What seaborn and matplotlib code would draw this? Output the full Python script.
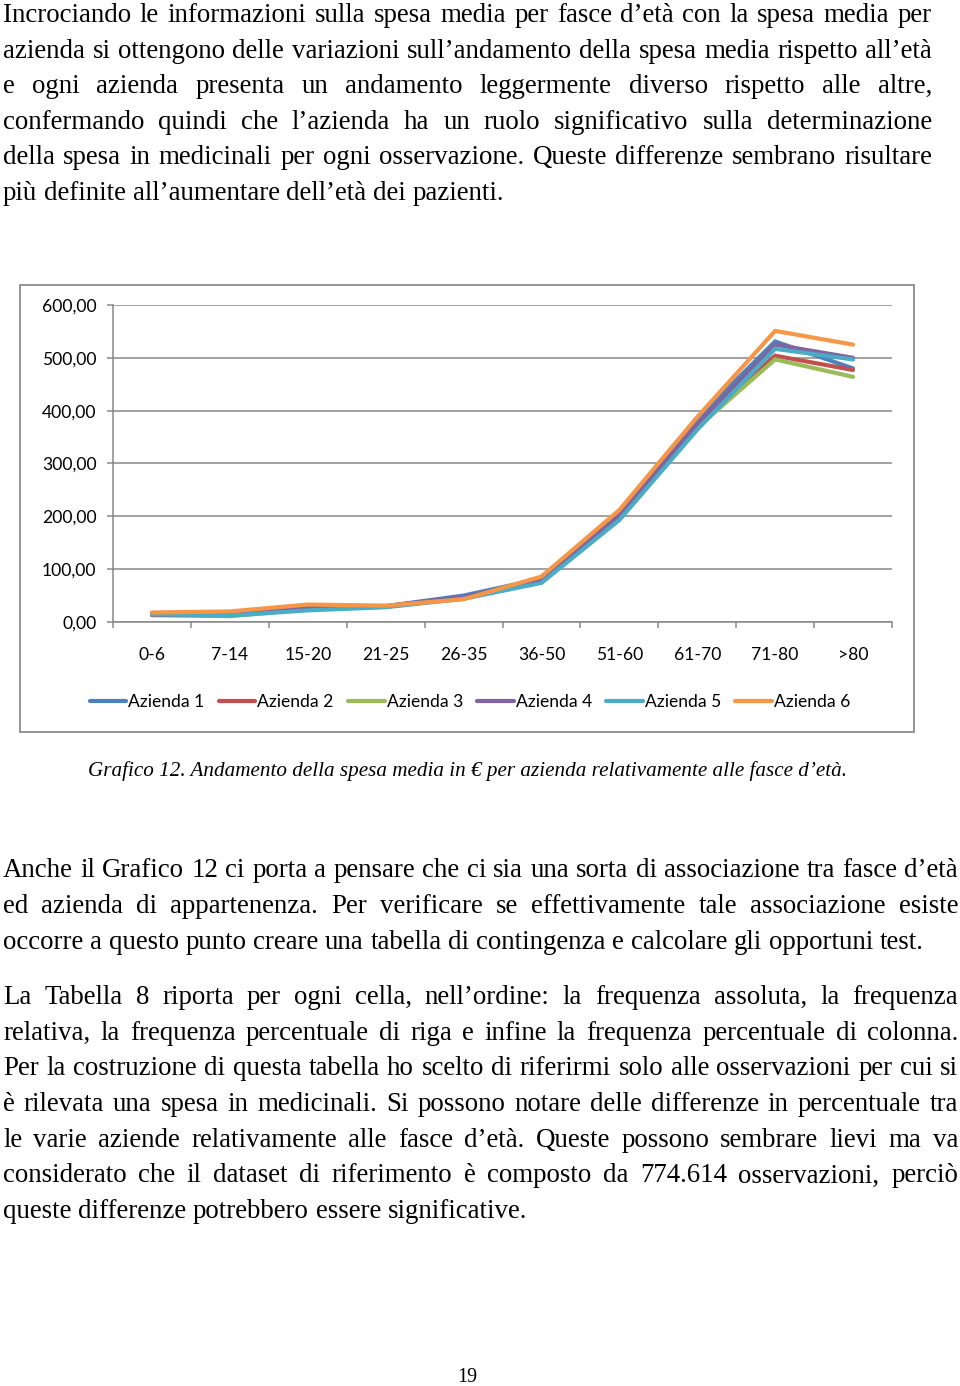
import matplotlib
matplotlib.use("Agg")
import matplotlib.pyplot as plt
import seaborn as sns
import pandas as pd
from matplotlib.patches import Rectangle
from matplotlib.ticker import FuncFormatter, FixedLocator

# ---------------- data ----------------
ages = ["0-6", "7-14", "15-20", "21-25", "26-35", "36-50", "51-60", "61-70", "71-80", ">80"]
az1 = [14, 13, 27, 30, 50, 82, 203, 385, 531, 480]
az2 = [13, 12, 25, 29, 45, 78, 200, 372, 504, 477]
az3 = [14, 11, 24, 29, 45, 77, 198, 368, 497, 464]
az4 = [14, 13, 26, 30, 47, 79, 200, 375, 525, 500]
az5 = [15, 12, 22, 28, 44, 74, 193, 364, 517, 497]
az6 = [18, 20, 33, 31, 43, 86, 212, 388, 551, 525]
series_names = ["Azienda 1", "Azienda 2", "Azienda 3", "Azienda 4", "Azienda 5", "Azienda 6"]
series_vals = [az1, az2, az3, az4, az5, az6]
colors = ["#4F81BD", "#C0504D", "#9BBB59", "#8064A2", "#4BACC6", "#F79646"]
yticks = [0, 100, 200, 300, 400, 500, 600]

para1 = [
    "Incrociando le informazioni sulla spesa media per fasce d’età con la spesa media per",
    "azienda si ottengono delle variazioni sull’andamento della spesa media rispetto all’età",
    "e ogni azienda presenta un andamento leggermente diverso rispetto alle altre,",
    "confermando quindi che l’azienda ha un ruolo significativo sulla determinazione",
    "della spesa in medicinali per ogni osservazione. Queste differenze sembrano risultare",
    "più definite all’aumentare dell’età dei pazienti.",
]
para2 = [
    "Anche il Grafico 12 ci porta a pensare che ci sia una sorta di associazione tra fasce d’età",
    "ed azienda di appartenenza. Per verificare se effettivamente tale associazione esiste",
    "occorre a questo punto creare una tabella di contingenza e calcolare gli opportuni test.",
]
para3 = [
    "La Tabella 8 riporta per ogni cella, nell’ordine: la frequenza assoluta, la frequenza",
    "relativa, la frequenza percentuale di riga e infine la frequenza percentuale di colonna.",
    "Per la costruzione di questa tabella ho scelto di riferirmi solo alle osservazioni per cui si",
    "è rilevata una spesa in medicinali. Si possono notare delle differenze in percentuale tra",
    "le varie aziende relativamente alle fasce d’età. Queste possono sembrare lievi ma va",
    "considerato che il dataset di riferimento è composto da 774.614 osservazioni, perciò",
    "queste differenze potrebbero essere significative.",
]
caption = "Grafico 12. Andamento della spesa media in € per azienda relativamente alle fasce d’età."
page_number = "19"

# ---------------- figure ----------------
W, H = 960, 1386
DPI = 100
fig = plt.figure(figsize=(W / DPI, H / DPI), dpi=DPI)
fig.patch.set_facecolor("white")
renderer = fig.canvas.get_renderer()

SERIF = ["Liberation Serif", "DejaVu Serif"]
CHART_FONT = ["Lato", "DejaVu Sans"]
CHART_FS = 12.6


def fx(px):
    return px / W


def fy(py):
    return 1 - py / H


def measure(s, **kw):
    t = fig.text(0, 0, s, **kw)
    w = t.get_window_extent(renderer).width
    t.remove()
    return w


# body font size fitted so that the unjustified line spans ~504 px
base = 17.0
wref = measure(para1[-1], fontsize=base, family=SERIF)
body_fs = base * 504.0 / wref


def draw_line(s, x0, x1, y, justify, fs, **kw):
    words = s.split(" ")
    texts = [fig.text(0, 0, w, fontsize=fs, va="baseline", ha="left", **kw) for w in words]
    widths = [t.get_window_extent(renderer).width for t in texts]
    if justify and len(words) > 1:
        gap = (x1 - x0 - sum(widths)) / (len(words) - 1)
    else:
        gap = measure("a a", fontsize=fs, **kw) - measure("aa", fontsize=fs, **kw)
    x = x0
    for t, w in zip(texts, widths):
        t.set_position((fx(x), fy(y)))
        x += w + gap


def draw_para(lines, x0, x1, y0, step):
    for i, s in enumerate(lines):
        draw_line(s, x0, x1, y0 + i * step, i < len(lines) - 1, body_fs, family=SERIF, color="black")


draw_para(para1, 3, 932, 22, 35.6)
draw_para(para2, 3, 958, 877, 35.8)
draw_para(para3, 3, 958, 1004, 35.7)

# caption (italic, centered)
cap_base = 14.0
cap_fs = cap_base * 761.0 / measure(caption, fontsize=cap_base, family=SERIF, style="italic")
fig.text(fx(467), fy(776), caption, fontsize=cap_fs, family=SERIF, style="italic",
         ha="center", va="baseline", color="black")

fig.text(fx(467), fy(1382), page_number, fontsize=body_fs * 0.75, family=SERIF,
         ha="center", va="baseline", color="black")

# chart frame
fig.patches.append(Rectangle((fx(20), fy(732)), fx(914) - fx(20), fy(285) - fy(732),
                             transform=fig.transFigure, fill=False,
                             edgecolor="#8c8c8c", linewidth=1.3, zorder=0))

# ---------------- chart ----------------
rows = []
for name, vals in zip(series_names, series_vals):
    for i, (a, v) in enumerate(zip(ages, vals)):
        rows.append({"idx": i, "Fascia": a, "Spesa": v, "Azienda": name})
df = pd.DataFrame(rows)

ax = fig.add_axes([fx(113), fy(622), fx(892) - fx(113), fy(305) - fy(622)])
sns.lineplot(data=df, x="idx", y="Spesa", hue="Azienda", hue_order=series_names,
             palette=colors, linewidth=3.0, ax=ax, legend=True, sort=False,
             solid_capstyle="round", solid_joinstyle="miter")

ax.set_xlim(-0.5, len(ages) - 0.5)
ax.set_ylim(yticks[0], yticks[-1])
ax.set_xlabel("")
ax.set_ylabel("")

grid_c = "#878787"
ax.yaxis.set_major_locator(FixedLocator(yticks))
ax.yaxis.set_major_formatter(FuncFormatter(lambda v, p: f"{v:.2f}".replace(".", ",")))
ax.grid(axis="y", color=grid_c, linewidth=1.1)
ax.set_axisbelow(True)

ax.set_xticks(range(len(ages)))
ax.set_xticklabels(ages)
ax.xaxis.set_minor_locator(FixedLocator([i - 0.5 for i in range(len(ages) + 1)]))
ax.tick_params(axis="x", which="major", length=0, pad=18, labelsize=CHART_FS, labelcolor="black")
ax.tick_params(axis="x", which="minor", length=4, width=1.1, color=grid_c, direction="out")
ax.tick_params(axis="y", which="major", length=4, width=1.1, color=grid_c, pad=8,
               labelsize=CHART_FS, labelcolor="black")
for lab in ax.get_xticklabels() + ax.get_yticklabels():
    lab.set_family(CHART_FONT)

for side in ["top", "right"]:
    ax.spines[side].set_visible(False)
for side in ["left", "bottom"]:
    ax.spines[side].set_color(grid_c)
    ax.spines[side].set_linewidth(1.1)

handles, labels = ax.get_legend_handles_labels()
ax.get_legend().remove()
for h in handles:
    h.set_linewidth(3.0)
fig.legend(handles, labels, loc="center", bbox_to_anchor=(fx(470), fy(702)), ncol=6,
           frameon=False, prop={"family": CHART_FONT, "size": CHART_FS},
           handlelength=2.1, handletextpad=0.12, columnspacing=0.8)

fig.savefig("out.png", dpi=DPI, facecolor="white")
